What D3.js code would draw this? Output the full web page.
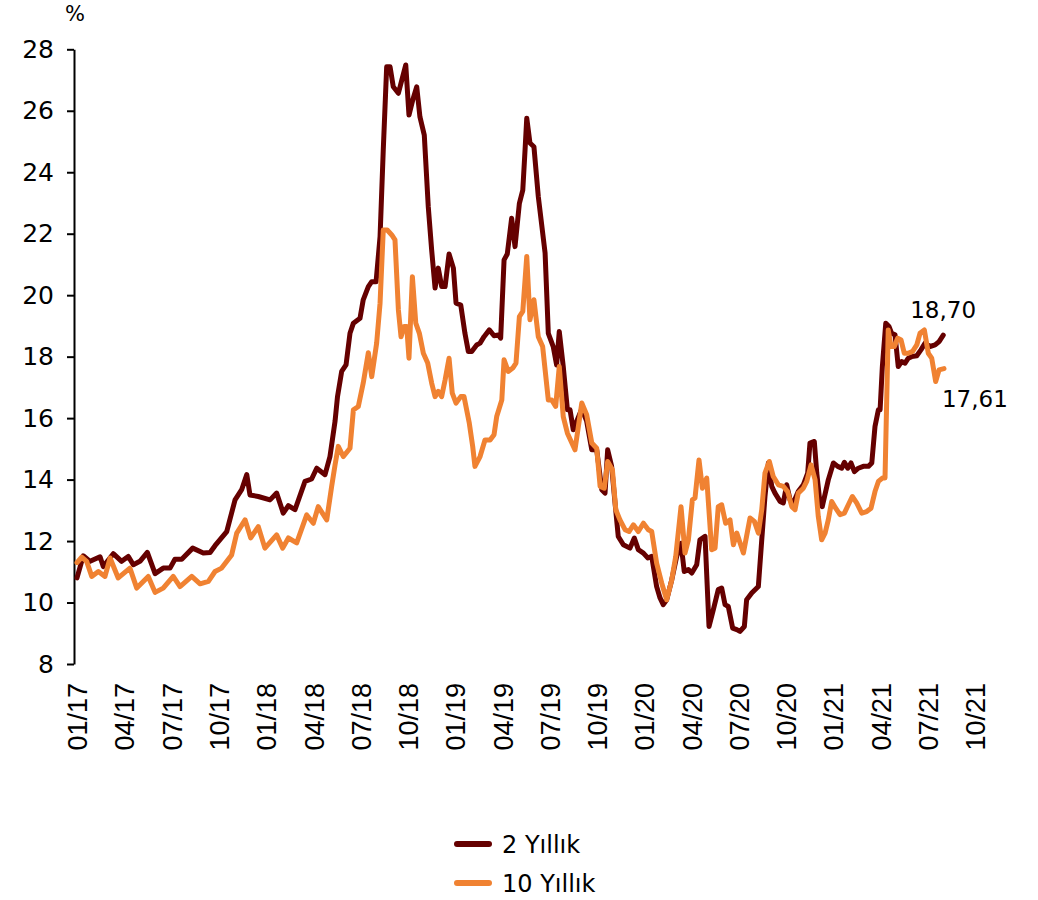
<!DOCTYPE html>
<html>
<head>
<meta charset="utf-8">
<script src="https://cdn.jsdelivr.net/npm/d3@7"></script>
<style>
  html, body { margin: 0; padding: 0; background: #fff; }
  svg { display: block; }
</style>
</head>
<body>
<div id="chart"></div>
<script>
// ---- Data (time as decimal year, yield in %) ----
const seriesNames = ["2 Yıllık", "10 Yıllık"];
const seriesColors = ["#650000", "#F08232"];

const time2Y = [2017.000,2017.033,2017.069,2017.122,2017.139,2017.192,2017.236,2017.271,2017.298,2017.333,2017.372,2017.413,2017.456,2017.492,2017.518,2017.554,2017.612,2017.668,2017.704,2017.730,2017.792,2017.836,2017.871,2017.898,2017.915,2017.959,
2018.021,2018.056,2018.091,2018.118,2018.153,2018.206,2018.241,2018.268,2018.312,2018.338,2018.365,2018.378,2018.400,2018.423,2018.444,2018.462,2018.497,2018.514,2018.541,2018.559,2018.582,2018.603,2018.620,2018.638,2018.656,2018.673,2018.700,2018.718,2018.739,2018.756,2018.776,2018.797,2018.814,2018.837,2018.858,2018.876,2018.894,2018.911,2018.929,2018.947,2018.968,2018.991,
2019.005,2019.030,2019.052,2019.070,2019.088,2019.114,2019.132,2019.153,2019.181,2019.206,2019.229,2019.241,2019.259,2019.276,2019.299,2019.317,2019.340,2019.358,2019.370,2019.379,2019.396,2019.417,2019.440,2019.476,2019.493,2019.519,2019.537,2019.551,2019.572,2019.594,2019.608,2019.625,2019.670,2019.696,2019.723,2019.749,2019.776,2019.793,2019.807,2019.828,2019.846,2019.863,2019.890,2019.925,2019.948,2019.969,2019.996,
2020.019,2020.040,2020.066,2020.084,2020.101,2020.119,2020.146,2020.172,2020.195,2020.212,2020.234,2020.252,2020.278,2020.295,2020.322,2020.343,2020.366,2020.392,2020.410,2020.428,2020.445,2020.468,2020.490,2020.507,2020.530,2020.542,2020.569,2020.604,2020.622,2020.639,2020.657,2020.675,2020.692,2020.719,2020.736,2020.754,2020.772,2020.789,2020.815,2020.842,2020.865,2020.877,2020.900,2020.913,2020.930,2020.942,2020.974,
2021.001,2021.024,2021.045,2021.059,2021.077,2021.094,2021.112,2021.133,2021.159,2021.186,2021.204,2021.221,2021.239,2021.248,2021.260,2021.278,2021.295,2021.309,2021.327,2021.344,2021.362,2021.380,2021.397,2021.415,2021.442,2021.464,2021.486,2021.512,2021.539,2021.560,2021.582];

const value2Y = [10.80,11.52,11.34,11.49,11.17,11.59,11.34,11.50,11.23,11.34,11.63,10.94,11.12,11.12,11.41,11.41,11.77,11.61,11.63,11.85,12.31,13.34,13.67,14.16,13.50,13.45,
13.34,13.56,12.91,13.15,13.02,13.94,14.02,14.37,14.16,14.75,15.90,16.70,17.52,17.73,18.76,19.09,19.25,19.85,20.28,20.44,20.44,21.90,24.73,27.43,27.43,26.78,26.57,27.00,27.49,25.86,26.35,26.78,25.80,25.21,22.88,21.47,20.23,20.88,20.28,20.28,21.34,20.88,
19.74,19.68,18.76,18.17,18.17,18.38,18.44,18.65,18.87,18.68,18.71,18.60,21.15,21.34,22.50,21.58,22.99,23.42,24.73,25.76,24.95,24.83,23.21,21.37,18.76,18.33,17.73,18.82,17.68,16.27,16.27,15.62,16.30,15.90,14.97,14.97,13.67,13.56,14.97,14.43,13.24,12.15,11.88,11.77,12.10,11.72,11.61,
11.45,11.50,10.52,10.15,9.93,10.09,10.74,11.50,11.93,11.01,11.07,10.96,11.23,12.04,12.15,9.22,9.77,10.42,10.47,9.93,9.87,9.17,9.12,9.06,9.22,10.09,10.31,10.52,12.04,13.45,14.54,13.78,13.56,13.29,13.24,13.83,13.34,13.24,13.61,13.83,14.21,15.19,15.24,14.21,13.24,13.12,13.99,
14.54,14.43,14.37,14.56,14.37,14.54,14.26,14.37,14.43,14.43,14.54,15.73,16.27,16.27,17.68,19.09,18.98,18.76,18.71,17.68,17.84,17.79,17.95,18.00,18.03,18.22,18.44,18.33,18.38,18.49,18.70];

const time10Y = [2017.000,2017.025,2017.051,2017.078,2017.113,2017.148,2017.175,2017.218,2017.280,2017.316,2017.377,2017.413,2017.456,2017.509,2017.545,2017.607,2017.651,2017.695,2017.730,2017.765,2017.818,2017.845,2017.889,2017.919,2017.959,2017.994,
2018.056,2018.088,2018.118,2018.162,2018.215,2018.250,2018.276,2018.321,2018.347,2018.365,2018.382,2018.409,2018.444,2018.462,2018.488,2018.514,2018.541,2018.559,2018.585,2018.603,2018.620,2018.641,2018.665,2018.682,2018.700,2018.714,2018.730,2018.744,2018.756,2018.774,2018.792,2018.811,2018.832,2018.855,2018.876,2018.894,2018.911,2018.929,2018.947,2018.968,2018.985,
2019.005,2019.030,2019.047,2019.075,2019.093,2019.105,2019.132,2019.158,2019.185,2019.206,2019.220,2019.247,2019.259,2019.281,2019.305,2019.322,2019.340,2019.358,2019.379,2019.396,2019.417,2019.440,2019.463,2019.493,2019.511,2019.532,2019.551,2019.572,2019.594,2019.634,2019.670,2019.696,2019.723,2019.749,2019.767,2019.789,2019.807,2019.832,2019.850,2019.872,2019.899,2019.920,2019.943,2019.969,2019.996,
2020.022,2020.040,2020.066,2020.093,2020.119,2020.146,2020.167,2020.195,2020.216,2020.234,2020.255,2020.269,2020.290,2020.308,2020.331,2020.357,2020.375,2020.392,2020.410,2020.431,2020.454,2020.472,2020.490,2020.525,2020.560,2020.583,2020.604,2020.622,2020.639,2020.662,2020.683,2020.710,2020.736,2020.759,2020.781,2020.798,2020.815,2020.842,2020.860,2020.883,2020.904,2020.921,2020.939,2020.957,2020.974,2020.992,
2021.013,2021.036,2021.059,2021.080,2021.101,2021.124,2021.151,2021.177,2021.200,2021.221,2021.239,2021.260,2021.274,2021.283,2021.291,2021.306,2021.323,2021.341,2021.359,2021.376,2021.397,2021.420,2021.442,2021.459,2021.482,2021.503,2021.521,2021.542,2021.560,2021.586];

const value10Y = [11.30,11.48,11.34,10.85,11.01,10.85,11.45,10.80,11.12,10.47,10.85,10.33,10.47,10.85,10.52,10.85,10.61,10.69,11.01,11.12,11.55,12.26,12.69,12.10,12.47,11.77,
12.20,11.77,12.10,11.94,12.85,12.58,13.12,12.69,13.78,14.48,15.08,14.75,15.02,16.27,16.38,17.14,18.13,17.35,18.44,19.74,22.12,22.12,21.96,21.80,19.52,18.65,18.98,18.98,17.95,20.60,19.09,18.76,18.11,17.79,17.14,16.70,16.87,16.70,17.24,17.95,16.81,
16.49,16.70,16.70,15.84,15.08,14.43,14.75,15.29,15.29,15.46,16.05,16.59,17.90,17.52,17.63,17.79,19.30,19.47,21.26,19.20,19.85,18.65,18.33,16.59,16.59,16.38,17.68,16.05,15.51,14.97,16.49,16.11,15.19,15.02,13.78,13.72,14.59,14.32,13.02,12.69,12.37,12.31,12.53,12.31,12.58,
12.37,12.31,11.28,10.63,10.09,10.74,11.50,13.12,11.61,12.04,13.34,13.40,14.64,13.72,14.05,11.72,11.77,13.12,13.18,12.58,12.69,11.88,12.26,11.61,12.75,12.64,12.26,13.02,14.21,14.59,14.10,13.83,13.78,13.61,13.12,13.02,13.56,13.72,13.94,14.48,14.00,12.80,12.04,12.26,12.69,13.29,
13.07,12.86,12.91,13.18,13.45,13.24,12.91,12.96,13.07,13.61,13.94,14.05,14.05,16.60,18.87,18.33,18.33,18.60,18.54,18.11,18.11,18.17,18.38,18.76,18.87,18.11,17.95,17.19,17.57,17.61];

const yTicks = [8, 10, 12, 14, 16, 18, 20, 22, 24, 26, 28];
const xTickValues = [2017.00,2017.25,2017.50,2017.75,2018.00,2018.25,2018.50,2018.75,2019.00,2019.25,2019.50,2019.75,2020.00,2020.25,2020.50,2020.75,2021.00,2021.25,2021.50,2021.75];
const xTickLabels = ["01/17","04/17","07/17","10/17","01/18","04/18","07/18","10/18","01/19","04/19","07/19","10/19","01/20","04/20","07/20","10/20","01/21","04/21","07/21","10/21"];
const lastLabels = ["18,70", "17,61"];

// ---- Layout ----
const W = 1038, H = 900;
const svg = d3.select("#chart").append("svg").attr("width", W).attr("height", H);
svg.append("rect").attr("width", W).attr("height", H).attr("fill", "#fff");

const x = d3.scaleLinear().domain([2017, 2021.75]).range([77, 975]);
const y = d3.scaleLinear().domain([8, 28]).range([664, 49.3]);

// Y axis
const yAxis = svg.append("g").attr("transform", "translate(74,0)")
  .call(d3.axisLeft(y).tickValues(yTicks).tickSize(7).tickSizeOuter(0).tickPadding(13).tickFormat(d3.format("d")));
yAxis.select(".domain").attr("stroke", "#000").attr("stroke-width", 2);
yAxis.selectAll(".tick line").attr("stroke", "#000").attr("stroke-width", 2);
yAxis.selectAll(".tick text").attr("font-family", "DejaVu Sans, sans-serif").attr("font-size", 25).attr("fill", "#000");

// % label
svg.append("text").attr("x", 75).attr("y", 21).attr("text-anchor", "middle")
  .attr("font-family", "DejaVu Sans, sans-serif").attr("font-size", 21).attr("fill", "#000").text("%");

// X axis labels (no line)
const xAxis = svg.append("g").attr("transform", "translate(0,683)")
  .call(d3.axisBottom(x).tickValues(xTickValues).tickSize(0).tickFormat((d, i) => xTickLabels[i]));
xAxis.select(".domain").remove();
xAxis.selectAll(".tick text")
  .attr("transform", "rotate(-90)")
  .attr("text-anchor", "end")
  .attr("x", 0).attr("y", 0).attr("dy", "0.36em")
  .attr("font-family", "Liberation Sans, Arial, sans-serif").attr("font-size", 27).attr("fill", "#000");

// Lines
const line = d3.line().x(d => x(d[0])).y(d => y(d[1]));
const d2 = time2Y.map((t, i) => [t, value2Y[i]]);
const d10 = time10Y.map((t, i) => [t, value10Y[i]]);

svg.append("path").datum(d2).attr("d", line)
  .attr("fill", "none").attr("stroke", seriesColors[0]).attr("stroke-width", 5)
  .attr("stroke-linejoin", "round").attr("stroke-linecap", "round");
svg.append("path").datum(d10).attr("d", line)
  .attr("fill", "none").attr("stroke", seriesColors[1]).attr("stroke-width", 5)
  .attr("stroke-linejoin", "round").attr("stroke-linecap", "round");

// End value labels
const last2 = d2[d2.length - 1], last10 = d10[d10.length - 1];
svg.append("text").attr("x", x(last2[0]) - 33).attr("y", y(last2[1]) - 17)
  .attr("font-family", "DejaVu Sans, sans-serif").attr("font-size", 23).attr("fill", "#000").text(lastLabels[0]);
svg.append("text").attr("x", x(last10[0]) - 2).attr("y", y(last10[1]) + 38)
  .attr("font-family", "DejaVu Sans, sans-serif").attr("font-size", 23).attr("fill", "#000").text(lastLabels[1]);

// Legend
const legend = svg.append("g");
seriesNames.forEach((name, i) => {
  const ly = 844 + i * 39;
  legend.append("line").attr("x1", 457).attr("x2", 489).attr("y1", ly).attr("y2", ly)
    .attr("stroke", seriesColors[i]).attr("stroke-width", 6).attr("stroke-linecap", "round");
  legend.append("text").attr("x", 502).attr("y", ly + 9)
    .attr("font-family", "DejaVu Sans, sans-serif").attr("font-size", 24).attr("fill", "#000").text(name);
});
</script>
</body>
</html>
